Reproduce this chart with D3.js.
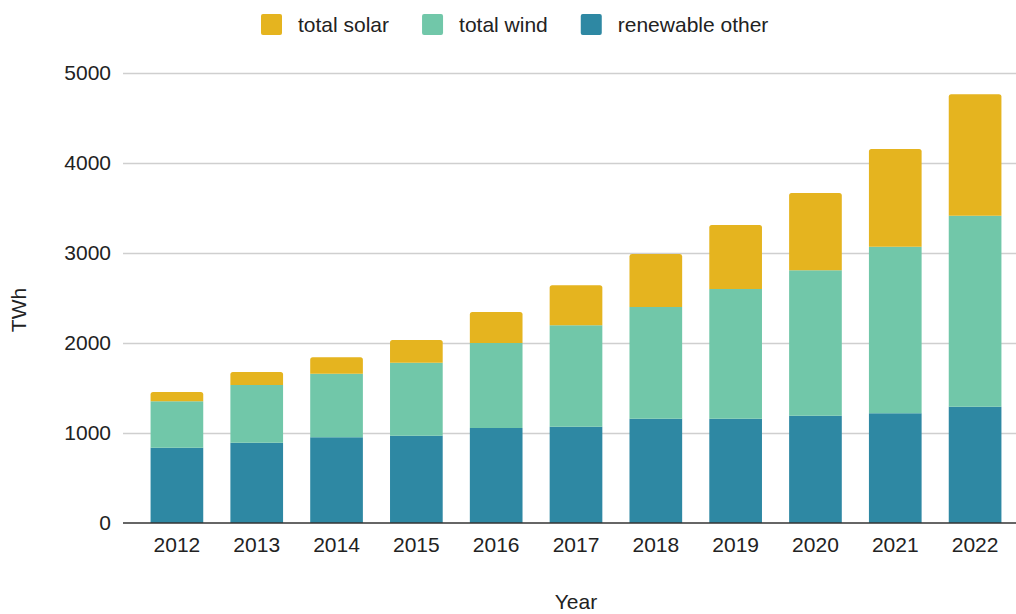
<!DOCTYPE html>
<html>
<head>
<meta charset="utf-8">
<script src="https://cdn.jsdelivr.net/npm/d3@7"></script>
<style>
  html, body { margin: 0; padding: 0; background: #fff; }
  svg { display: block; font-family: "Liberation Sans", Arial, sans-serif; }
</style>
</head>
<body>
<svg id="chart" width="1016" height="614"></svg>
<script>
const years = ["2012","2013","2014","2015","2016","2017","2018","2019","2020","2021","2022"];
const renewableOther = [836, 892, 952, 970, 1055, 1069, 1158, 1158, 1191, 1218, 1291];
const totalWind = [515, 640, 706, 810, 944, 1126, 1240, 1440, 1615, 1850, 2121];
const totalSolar = [103, 145, 182, 252, 344, 444, 589, 711, 858, 1085, 1348];
const yTicks = [0, 1000, 2000, 3000, 4000, 5000];

const seriesKeys = ["renewable other", "total wind", "total solar"];
const legendKeys = ["total solar", "total wind", "renewable other"];
const colors = { "total solar": "#e5b41f", "total wind": "#71c7a9", "renewable other": "#2e88a3" };

const rows = years.map((y, i) => ({
  year: y,
  "renewable other": renewableOther[i],
  "total wind": totalWind[i],
  "total solar": totalSolar[i]
}));

const svg = d3.select("#chart");
const textColor = "#222";

const x = d3.scaleBand().domain(years).range([137, 1015]).paddingInner(0.34).paddingOuter(0.17);
const y = d3.scaleLinear().domain([0, 5000]).range([523, 72.7]);

// gridlines
svg.append("g").selectAll("line").data(yTicks.filter(t => t > 0)).join("line")
  .attr("x1", 123).attr("x2", 1016)
  .attr("y1", d => Math.round(y(d)) + 0.5).attr("y2", d => Math.round(y(d)) + 0.5)
  .attr("stroke", "#cfcfcf").attr("stroke-width", 1.3);

// stacked bars
const stack = d3.stack().keys(seriesKeys)(rows);
const r = 2.5;
svg.append("g").selectAll("g").data(stack).join("g")
  .attr("fill", d => colors[d.key])
  .each(function(layer, li) {
    const isTop = li === stack.length - 1;
    d3.select(this).selectAll("path").data(layer).join("path")
      .attr("d", d => {
        const x0 = x(d.data.year), w = x.bandwidth();
        const yt = y(d[1]), yb = y(d[0]);
        if (!isTop) return `M${x0},${yb}V${yt}H${x0 + w}V${yb}Z`;
        return `M${x0},${yb}V${yt + r}Q${x0},${yt} ${x0 + r},${yt}H${x0 + w - r}Q${x0 + w},${yt} ${x0 + w},${yt + r}V${yb}Z`;
      });
  });

// baseline axis
svg.append("line").attr("x1", 123).attr("x2", 1016)
  .attr("y1", y(0)).attr("y2", y(0))
  .attr("stroke", "#333").attr("stroke-width", 1.5);

// y tick labels
const yAxis = d3.axisLeft(y).tickValues(yTicks).tickFormat(d3.format("d")).tickSize(0).tickPadding(0);
const gy = svg.append("g").attr("transform", "translate(111,0)").call(yAxis);
gy.select(".domain").remove();
gy.selectAll("text").attr("font-size", 21).attr("fill", textColor)
  .attr("font-family", "Liberation Sans, Arial, sans-serif");

// x tick labels
const xAxis = d3.axisBottom(x).tickSize(0).tickPadding(0);
const gx = svg.append("g").attr("transform", "translate(0,537)").call(xAxis);
gx.select(".domain").remove();
gx.selectAll("text").attr("font-size", 21).attr("fill", textColor)
  .attr("font-family", "Liberation Sans, Arial, sans-serif");

// axis titles
svg.append("text").attr("x", 576).attr("y", 609).attr("text-anchor", "middle")
  .attr("font-size", 21).attr("fill", textColor).text("Year");
svg.append("text").attr("transform", "translate(26,310) rotate(-90)").attr("text-anchor", "middle")
  .attr("font-size", 21).attr("fill", textColor).text("TWh");

// legend
let lx = 261;
const legend = svg.append("g");
legendKeys.forEach(k => {
  legend.append("rect").attr("x", lx).attr("y", 14).attr("width", 21).attr("height", 21)
    .attr("rx", 2).attr("fill", colors[k]);
  const t = legend.append("text").attr("x", lx + 37).attr("y", 31.5)
    .attr("font-size", 21).attr("fill", textColor).text(k);
  lx += 37 + t.node().getComputedTextLength() + 33;
});
</script>
</body>
</html>
